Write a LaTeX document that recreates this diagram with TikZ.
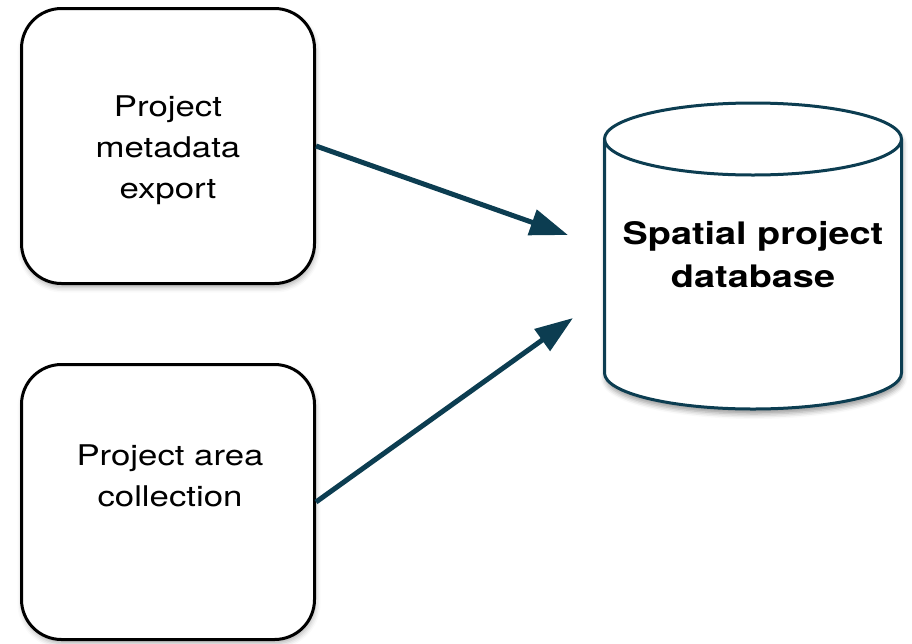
\documentclass[tikz,border=0pt]{standalone}
\usepackage{fontspec}
\setmainfont[FakeStretch=1.22]{TeX Gyre Heros}
\usetikzlibrary{arrows.meta,positioning,shadows.blur}

\definecolor{dbteal}{HTML}{0C3D51}

\begin{document}
\begin{tikzpicture}[x=1pt,y=1pt,
    source node/.style={rectangle,draw=black,line width=3pt,rounded corners=40pt,fill=white,
        minimum width=293pt,minimum height=275pt,
        blur shadow={shadow xshift=1pt,shadow yshift=-4pt,shadow blur radius=5pt,shadow opacity=30}},
    label node/.style={align=center,inner sep=0pt,font=\fontsize{28.5}{41}\selectfont},
    db label/.style={align=center,inner sep=0pt,font=\fontsize{31}{43}\selectfont\bfseries},
    flow/.style={-{Triangle[length=38pt,width=26pt]},draw=dbteal,fill=dbteal,line width=5pt}]

    \useasboundingbox (0,0) rectangle (912,-643);

    % input boxes
    \node[source node] (meta) at (168,-146) {};
    \node[source node] (area) [below=78pt of meta] {};
    \node[label node] (metatext) at (168,-150) {Project\\metadata\\export};
    \node[label node] (areatext) at (170,-476) {Project area\\collection};

    % database cylinder
    \path[draw=dbteal,line width=3pt,fill=white,
        blur shadow={shadow xshift=1pt,shadow yshift=-5pt,shadow blur radius=5pt,shadow opacity=40}]
        (604.5,-139) -- (604.5,-373)
        arc[start angle=180,end angle=360,x radius=148.5,y radius=36]
        -- (901.5,-139)
        arc[start angle=0,end angle=180,x radius=148.5,y radius=36] -- cycle;
    \draw[dbteal,line width=3pt] (604.5,-139) arc[start angle=180,end angle=360,x radius=148.5,y radius=36];
    \node[db label] (db) at (753,-255) {Spatial project\\database};

    \coordinate (dbin1) at (568,-235);
    \coordinate (dbin2) at (573,-318);

    % arrows into the database
    \draw[flow] (meta.east) -- (dbin1);
    \draw[flow] (area.east) -- (dbin2);
\end{tikzpicture}
\end{document}
